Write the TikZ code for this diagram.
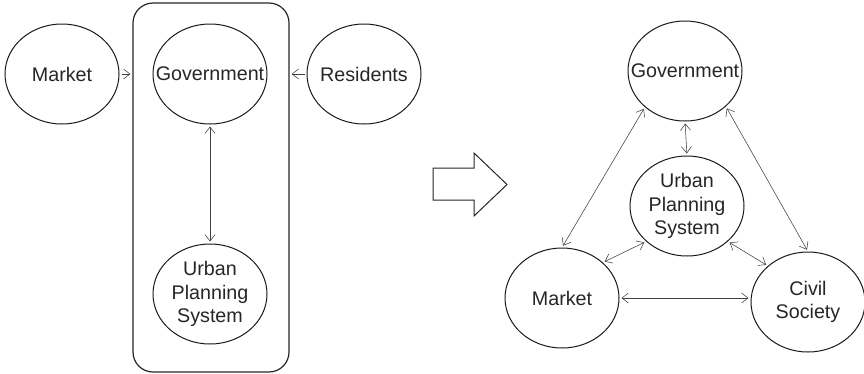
\documentclass[tikz,border=0pt]{standalone}
\usepackage{fontspec}
\setmainfont{Liberation Sans}
\usetikzlibrary{shapes.geometric,arrows.meta}

\begin{document}
\begin{tikzpicture}[x=1bp,y=-1bp,
  ent/.style={draw=black!90, line width=1bp, ellipse, inner sep=0pt,
    minimum width=114bp, minimum height=100bp},
  lbl/.style={font=\fontsize{19.7bp}{23.5bp}\selectfont, text=black!85,
    align=center, inner sep=0pt},
  link/.style={line width=0.55bp, draw=black!75, shorten <=2bp, shorten >=2bp},
  both/.style={link, {Straight Barb[length=6.5bp,width=10bp]}-{Straight Barb[length=6.5bp,width=10bp]}},
  one/.style={link, -{Straight Barb[length=6.5bp,width=10bp]}},
  frame/.style={draw=black!85, line width=1.2bp, rounded corners=20bp,
    minimum width=156bp, minimum height=369bp, inner sep=0pt},
  bigarrow/.style={draw=black!85, line width=1bp, line join=miter}
]
\useasboundingbox (0,0) rectangle (864,373);

% ---- before: the planning system inside government ----
\node[frame] (box) at (211,187.5) {};
\node[ent, label={[lbl]center:Market}]     (mkt1) at (62,74)  {};
\node[ent, label={[lbl]center:Government}] (gov1) at (210,74) {};
\node[ent, label={[lbl]center:Residents}]  (res1) at (364,74) {};
\node[ent, label={[lbl]center:Urban\\Planning\\System}] (ups1) at (210,294) {};

\draw[one] (mkt1.east) -- (mkt1.east -| box.west);
\draw[one] (res1.west) -- (res1.west -| box.east);
\draw[both] (gov1.south) -- (ups1.north);

% ---- transition arrow ----
\draw[bigarrow] (433,168) coordinate (ba) -- (474,168) -- (474,153) -- (507,184.5)
  -- (474,216) -- (474,200) -- (433,200) -- cycle;

% ---- after: shared governance triangle ----
\node[ent, label={[lbl]center:Government}] (gov2) at (685,71) {};
\node[ent, label={[lbl]center:Urban\\Planning\\System}] (ups2) at (687,206) {};
\node[ent, label={[lbl]center:Market}] (mkt2) at (562,298) {};
\node[ent, label={[lbl]center:Civil\\Society}] (civ2) at (808,302) {};

\draw[both] (gov2.south) -- (ups2.north);
\draw[both] (gov2.222) -- (mkt2.90);
\draw[both] (gov2.319) -- (civ2.90);
\draw[both] (ups2.221) -- (mkt2.41);
\draw[both] (ups2.319) -- (civ2.138);
\draw[both] (mkt2.east) -- (mkt2.east -| civ2.west);
\end{tikzpicture}
\end{document}
